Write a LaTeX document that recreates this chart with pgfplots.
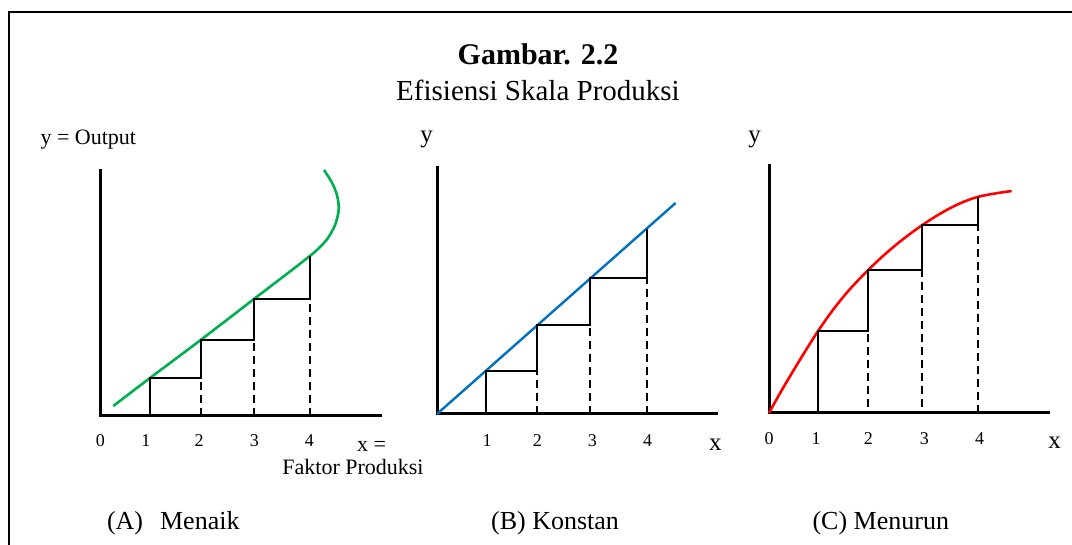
\documentclass[border=0pt]{standalone}
\usepackage{fontspec}
\setmainfont{Liberation Serif}
\usepackage{pgfplots}
\pgfplotsset{compat=1.18}
\definecolor{cgreen}{RGB}{0,176,80}
\definecolor{cblue}{RGB}{0,112,192}
\definecolor{cred}{RGB}{255,0,0}
\newcommand{\fs}[1]{\fontsize{#1}{#1}\selectfont}
\pgfplotsset{panel/.style={
  scale only axis, width=279.7pt, clip=false,
  axis x line*=bottom, axis y line*=left,
  axis line style={-, line width=3pt, black, line cap=rect},
  xmin=0, ymin=0, ytick=\empty,
  major tick length=0pt,
  /pgf/number format/assume math mode=true,
  xticklabel style={font=\fs{18}, anchor=base, inner sep=0pt},
  anchor=south west,
}}
\begin{document}
\begin{tikzpicture}
\path[use as bounding box] (0pt,0pt) rectangle (1072pt,-545pt);
\draw[line width=2pt] (9pt,-545pt) -- (9pt,-12pt) -- (1072pt,-12pt);
\node[anchor=base, inner sep=0pt, font=\bfseries\fs{30}] at (538pt,-65pt) {Gambar. 2.2};
\node[anchor=base, inner sep=0pt, font=\fs{29}] at (538pt,-101pt) {Efisiensi Skala Produksi};

% ---------- Panel A ----------
\begin{axis}[panel, at={(100.3pt,-415.7pt)}, height=245.7pt,
  xmax=5.338, ymax=4.689,
  xtick={0,0.872,1.884,2.939,3.989}, xticklabels={0,1,2,3,4},
  xticklabel style={yshift=-31pt}]
\addplot[cgreen, line width=2.6pt, smooth, tension=0.5] coordinates {
 (0.248,0.185) (0.948,0.719) (1.916,1.445) (2.933,2.227) (3.5,2.66) (3.85,2.93)
 (4.12,3.15) (4.33,3.37) (4.48,3.64) (4.55,3.93) (4.52,4.20) (4.42,4.45) (4.269,4.689)};
\addplot[black, line width=2pt] coordinates {
 (0.948,0) (0.948,0.71) (1.916,0.71) (1.916,1.44) (2.933,1.44) (2.933,2.227) (4.0,2.227) (4.0,3.053)};
\addplot[black, line width=2pt, dash pattern=on 8pt off 5pt] coordinates {(1.916,0) (1.916,0.71)};
\addplot[black, line width=2pt, dash pattern=on 8pt off 5pt] coordinates {(2.933,0) (2.933,1.44)};
\addplot[black, line width=2pt, dash pattern=on 8pt off 5pt] coordinates {(4.0,0) (4.0,2.227)};
\end{axis}
\node[anchor=base, inner sep=0pt, font=\fs{22}] at (88.3pt,-145pt) {y = Output};
\node[anchor=base, inner sep=0pt, font=\fs{22}] at (371.5pt,-451.7pt) {x =};
\node[anchor=base, inner sep=0pt, font=\fs{22}] at (353pt,-475pt) {Faktor Produksi};
\node[anchor=base, inner sep=0pt, font=\fs{26}] at (173.3pt,-529.3pt) {(A)\hspace{17pt}Menaik};

% ---------- Panel B ----------
\begin{axis}[panel, at={(437pt,-414pt)}, height=247pt,
  xmax=5.340, ymax=4.727,
  xtick={0.957,1.914,2.967,4.019}, xticklabels={1,2,3,4},
  xticklabel style={yshift=-33pt}]
\addplot[cblue, line width=2.4pt] coordinates {(0,0) (4.555,4.038)};
\addplot[black, line width=2pt] coordinates {
 (0.938,0) (0.938,0.832) (1.914,0.832) (1.914,1.698) (2.928,1.698) (2.928,2.597) (4.0,2.597) (4.0,3.548)};
\addplot[black, line width=2pt, dash pattern=on 8pt off 5pt] coordinates {(1.914,0) (1.914,0.832)};
\addplot[black, line width=2pt, dash pattern=on 8pt off 5pt] coordinates {(2.928,0) (2.928,1.698)};
\addplot[black, line width=2pt, dash pattern=on 8pt off 5pt] coordinates {(4.0,0) (4.0,2.597)};
\end{axis}
\node[anchor=base, inner sep=0pt, font=\fs{25}] at (426.7pt,-143pt) {y};
\node[anchor=base, inner sep=0pt, font=\fs{25}] at (715.3pt,-450.7pt) {x};
\node[anchor=base, inner sep=0pt, font=\fs{26}] at (555pt,-529.3pt) {(B) Konstan};

% ---------- Panel C ----------
\begin{axis}[panel, at={(769pt,-413pt)}, height=247pt,
  xmax=5.365, ymax=4.75,
  xtick={0,0.904,1.904,2.981,4.038}, xticklabels={0,1,2,3,4},
  xticklabel style={yshift=-32pt}]
\addplot[cred, line width=2.6pt, smooth, tension=0.6] coordinates {
 (0,0) (0.340,0.602) (0.942,1.577) (1.423,2.231) (1.904,2.75) (2.385,3.192)
 (2.942,3.615) (3.481,3.942) (4.0,4.154) (4.654,4.269)};
\addplot[black, line width=2pt] coordinates {
 (0.942,0) (0.942,1.577) (1.904,1.577) (1.904,2.75) (2.942,2.75) (2.942,3.615) (4.0,3.615) (4.0,4.154)};
\addplot[black, line width=2pt, dash pattern=on 8pt off 5pt] coordinates {(1.904,0.12) (1.904,1.577)};
\addplot[black, line width=2pt, dash pattern=on 8pt off 5pt] coordinates {(2.942,0.12) (2.942,2.75)};
\addplot[black, line width=2pt, dash pattern=on 8pt off 5pt] coordinates {(4.0,0) (4.0,3.615)};
\end{axis}
\node[anchor=base, inner sep=0pt, font=\fs{25}] at (754.7pt,-143pt) {y};
\node[anchor=base, inner sep=0pt, font=\fs{25}] at (1054.7pt,-448.3pt) {x};
\node[anchor=base, inner sep=0pt, font=\fs{26}] at (880.8pt,-529.3pt) {(C) Menurun};
\end{tikzpicture}
\end{document}
